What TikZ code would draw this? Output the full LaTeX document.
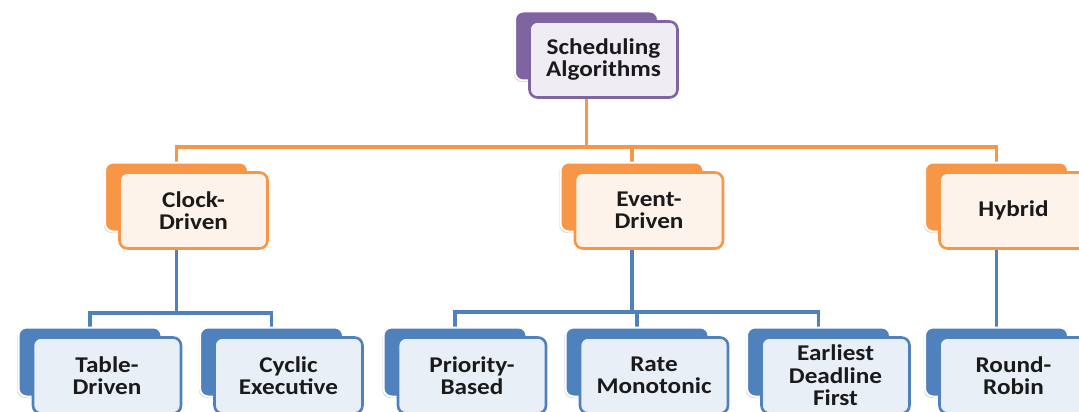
\documentclass[tikz,border=0pt]{standalone}
\usepackage{fontspec}
\setmainfont{Carlito}
\newfontfamily\boxfont{Carlito}[FakeStretch=1.12]
\usetikzlibrary{backgrounds,shadows}

\definecolor{vPurple}{HTML}{8064A2}
\definecolor{vPurpleLt}{HTML}{EFECF3}
\definecolor{vOrange}{HTML}{F79646}
\definecolor{vOrangeLt}{HTML}{FEF3EA}
\definecolor{vBlue}{HTML}{4F81BD}
\definecolor{vBlueLt}{HTML}{E9EFF7}
\definecolor{vText}{HTML}{1A1A1A}

\tikzset{
  backbox/.style={draw=white, line width=2pt, rounded corners=8pt,
    minimum width=143pt, minimum height=69pt, inner sep=0pt,
    drop shadow={shadow xshift=-1.2pt, shadow yshift=-1.5pt, fill=black, opacity=0.18}},
  frontbox/.style={line width=2.6pt, rounded corners=8pt,
    minimum width=148pt, minimum height=76pt, inner sep=0pt, align=center,
    font=\boxfont\bfseries\fontsize{22.5}{22.5}\selectfont, text=vText},
  link/.style={line width=3.5pt},
}

% back tab + front card; #1 name, #2 x, #3 y, #4 dark colour, #5 light colour, #6 text
\newcommand\tierbox[6]{%
  \node[backbox, fill=#4] (#1b) at (#2,#3) {};
  \node[frontbox, draw=#4, fill=#5] (#1) at ([xshift=17pt,yshift=-13.5pt]#1b.center) {#6};
}

\begin{document}
\begin{tikzpicture}[x=1pt,y=-1pt]
  \useasboundingbox (0,0) rectangle (1079,412);
  \clip (0,0) rectangle (1079,412);

  % root
  \tierbox{sa}{586.5}{46}{vPurple}{vPurpleLt}{Scheduling\\Algorithms}

  % second tier
  \tierbox{cd}{176.5}{197}{vOrange}{vOrangeLt}{Clock-\\Driven}
  \tierbox{ed}{632}{197}{vOrange}{vOrangeLt}{Event-\\Driven}
  \tierbox{hy}{996.5}{197}{vOrange}{vOrangeLt}{Hybrid}

  % third tier
  \tierbox{td}{90}{362}{vBlue}{vBlueLt}{Table-\\Driven}
  \tierbox{ce}{271.5}{362}{vBlue}{vBlueLt}{Cyclic\\Executive}
  \tierbox{pb}{455}{362}{vBlue}{vBlueLt}{Priority-\\Based}
  \tierbox{rm}{637}{362}{vBlue}{vBlueLt}{Rate\\Monotonic}
  \tierbox{ef}{818.5}{362}{vBlue}{vBlueLt}{Earliest\\Deadline\\First}
  \tierbox{rr}{996.5}{362}{vBlue}{vBlueLt}{Round-\\Robin}

  \coordinate (obus) at (0,147);
  \coordinate (cbus) at (0,313);
  \coordinate (ebus) at (0,312);

  \begin{scope}[on background layer]
    \draw[link, vOrange] (sab.south) -- (sab.south |- obus) -| (cdb.north);
    \draw[link, vOrange] (sab.south |- obus) -| (edb.north);
    \draw[link, vOrange] (sab.south |- obus) -| (hyb.north);

    \draw[link, vBlue] (cdb.south) -- (cdb.south |- cbus) -| (tdb.north);
    \draw[link, vBlue] (cdb.south |- cbus) -| (ceb.north);

    \draw[link, vBlue] (edb.south) -- (edb.south |- ebus) -| (pbb.north);
    \draw[link, vBlue] (edb.south |- ebus) -| (rmb.north);
    \draw[link, vBlue] (edb.south |- ebus) -| (efb.north);

    \draw[link, vBlue] (hyb.south) -- (rrb.north);
  \end{scope}
\end{tikzpicture}
\end{document}
